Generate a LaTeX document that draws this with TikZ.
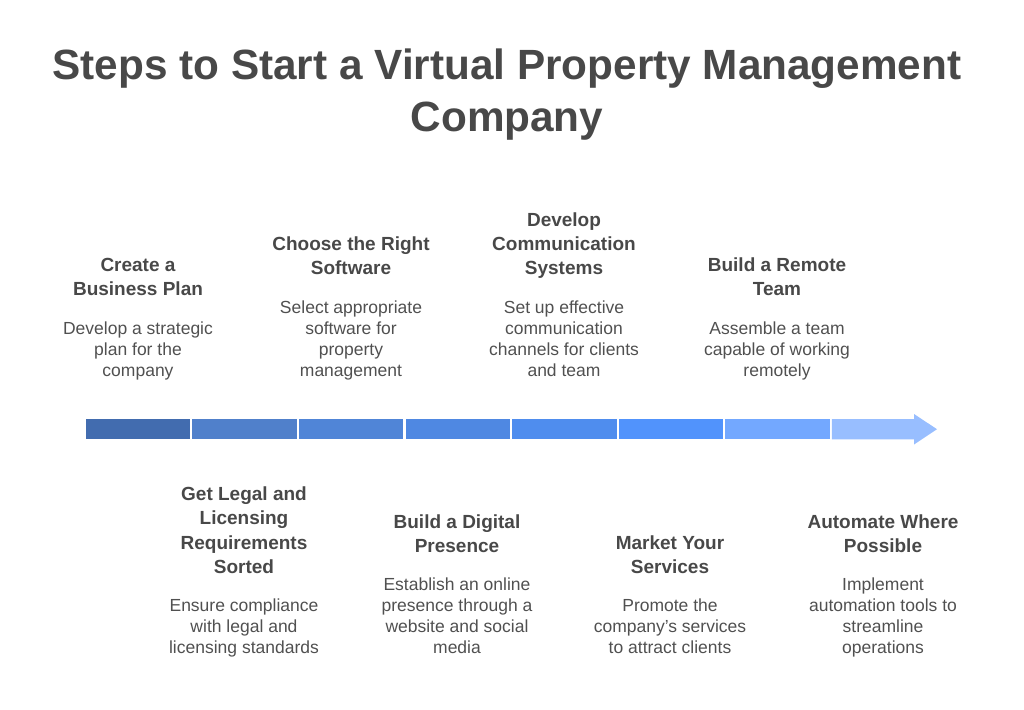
\documentclass[tikz,border=0pt]{standalone}
\usepackage{fontspec}
\setmainfont{Liberation Sans}
\usetikzlibrary{positioning}
\definecolor{ink}{HTML}{484848}
\definecolor{inklight}{HTML}{505050}
\definecolor{bar1}{HTML}{426CAF}
\definecolor{bar2}{HTML}{5080CB}
\definecolor{bar3}{HTML}{5085D7}
\definecolor{bar4}{HTML}{4F88E2}
\definecolor{bar5}{HTML}{4F8DEE}
\definecolor{bar6}{HTML}{5193FC}
\definecolor{bar7}{HTML}{73A8FF}
\definecolor{bar8}{HTML}{98BEFF}
\begin{document}
\begin{tikzpicture}[
            x = 1pt, y = -1pt,
            node distance = 18pt,
            every node/.style={text=ink, align=center, inner sep=0pt,
                execute at begin node=\strut, execute at end node=\strut},
            title/.style={font=\fontsize{42.3}{52.3}\selectfont\bfseries},
            head/.style={font=\fontsize{19}{24.4}\selectfont\bfseries},
            desc/.style={font=\fontsize{17.5}{21}\selectfont, text=inklight, anchor=south},
            ]
        \useasboundingbox (0,0) rectangle (1024,709);
        \node[title, anchor=north] (title) at (507,48.4) {Steps to Start a Virtual Property Management\\Company};
        % timeline bar
        \fill[bar1] (85.7,419) rectangle ++(104.4,20.3);
        \fill[bar2] (192.3,419) rectangle ++(104.4,20.3);
        \fill[bar3] (298.9,419) rectangle ++(104.4,20.3);
        \fill[bar4] (405.5,419) rectangle ++(104.4,20.3);
        \fill[bar5] (512.1,419) rectangle ++(104.4,20.3);
        \fill[bar6] (618.7,419) rectangle ++(104.4,20.3);
        \fill[bar7] (725.3,419) rectangle ++(104.4,20.3);
        \fill[bar8] (831.9,419) -- (914,419) -- (914,414) -- (937,429.2) -- (914,444.5) -- (914,439.3) -- (831.9,439.3) -- cycle;
        % steps above
        \node[desc] (d1) at (138,382.8) {Develop a strategic\\plan for the\\company};
        \node[head, above=of d1] (h1) {Create a\\Business Plan};
        \node[desc] (d3) at (351,382.8) {Select appropriate\\software for\\property\\management};
        \node[head, above=of d3] (h3) {Choose the Right\\Software};
        \node[desc] (d5) at (564,382.8) {Set up effective\\communication\\channels for clients\\and team};
        \node[head, above=of d5] (h5) {Develop\\Communication\\Systems};
        \node[desc] (d7) at (777,382.8) {Assemble a team\\capable of working\\remotely};
        \node[head, above=of d7] (h7) {Build a Remote\\Team};
        % steps below
        \node[desc] (d2) at (244,660.3) {Ensure compliance\\with legal and\\licensing standards};
        \node[head, above=of d2] (h2) {Get Legal and\\Licensing\\Requirements\\Sorted};
        \node[desc] (d4) at (457,660.3) {Establish an online\\presence through a\\website and social\\media};
        \node[head, above=of d4] (h4) {Build a Digital\\Presence};
        \node[desc] (d6) at (670,660.3) {Promote the\\company{\char39}s services\\to attract clients};
        \node[head, above=of d6] (h6) {Market Your\\Services};
        \node[desc] (d8) at (883,660.3) {Implement\\automation tools to\\streamline\\operations};
        \node[head, above=of d8] (h8) {Automate Where\\Possible};
    \end{tikzpicture}
\end{document}
